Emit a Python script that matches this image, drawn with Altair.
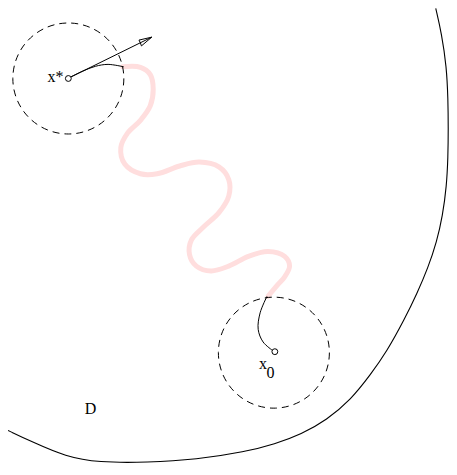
import altair as alt
import pandas as pd

# Diagram coordinates (image pixel units, y grows downward)
boundary_x = [444, 450, 455, 456.5, 456.8, 456.5, 455, 451, 445, 436, 425, 412, 394, 378, 357, 333, 307, 280, 250, 200, 150, 100, 67, 33, 8]
boundary_y = [7, 33, 67, 100, 130, 160, 190, 220, 247, 274, 300, 327, 360, 383, 410, 430, 445, 455, 463, 471, 474, 474, 468, 453, 441]

path_x = [125, 143, 153, 156, 153, 143, 130, 123, 127, 143, 160, 183, 203, 223, 233, 233, 223, 207, 195, 193, 200, 215, 233, 253, 273, 290, 295, 290, 283, 273]
path_y = [67, 67.5, 75, 90, 107, 122, 135, 150, 167, 177, 177, 169, 165, 170, 183, 200, 217, 232, 245, 260, 272, 277, 272, 262, 257, 262, 272, 283, 291, 303]

start_curve_x = [69, 84, 97, 110, 126]
start_curve_y = [79, 71.5, 66.5, 64.5, 67]

end_curve_x = [272, 265, 263, 268, 278]
end_curve_y = [303, 320, 337, 350, 359]

arrow_x = [69, 154.5]
arrow_y = [79, 36.5]
head_x = [154.5, 141.5, 143, 144, 154.5]
head_y = [36.5, 39.5, 42.5, 45.5, 36.5]

circle_x = [69.5, 279]
circle_y = [79, 361]

center_x = [69.5, 280]
center_y = [79, 360]

label_text = ["x*", "x", "0", "D"]
label_x = [64.5, 268, 275.5, 92]
label_y = [83, 378, 387, 424]
label_align = ["right", "center", "center", "center"]

W, H = 441, 455
xs = alt.Scale(domain=[8, 457.5])
ys = alt.Scale(domain=[6.5, 474.5], reverse=True)


def seq_df(xv, yv):
    return pd.DataFrame({"x": xv, "y": yv, "i": list(range(len(xv)))})


def line_layer(df, interp, **kw):
    return alt.Chart(df).mark_line(interpolate=interp, **kw).encode(
        x=alt.X("x:Q", scale=xs, axis=None),
        y=alt.Y("y:Q", scale=ys, axis=None),
        order="i:Q",
    )


boundary = line_layer(seq_df(boundary_x, boundary_y), "basis", color="black", strokeWidth=1.1)
pink = line_layer(seq_df(path_x, path_y), "catmull-rom", color="#ffdede", strokeWidth=5, strokeCap="round")
start_curve = line_layer(seq_df(start_curve_x, start_curve_y), "catmull-rom", color="black", strokeWidth=1)
end_curve = line_layer(seq_df(end_curve_x, end_curve_y), "catmull-rom", color="black", strokeWidth=1)
arrow = line_layer(seq_df(arrow_x, arrow_y), "linear", color="black", strokeWidth=1)
head = line_layer(seq_df(head_x, head_y), "linear", color="black", strokeWidth=1)

circles = alt.Chart(pd.DataFrame({"x": circle_x, "y": circle_y})).mark_point(
    shape="circle", filled=False, size=111 * 111, color="black", strokeWidth=1,
    strokeDash=[7, 5], opacity=1,
).encode(x=alt.X("x:Q", scale=xs, axis=None), y=alt.Y("y:Q", scale=ys, axis=None))

centers = alt.Chart(pd.DataFrame({"x": center_x, "y": center_y})).mark_point(
    shape="circle", filled=True, size=34, fill="white", stroke="black", strokeWidth=1, opacity=1,
).encode(x=alt.X("x:Q", scale=xs, axis=None), y=alt.Y("y:Q", scale=ys, axis=None))

labels_df = pd.DataFrame({"t": label_text, "x": label_x, "y": label_y, "a": label_align})
labels_r = alt.Chart(labels_df[labels_df.a == "right"]).mark_text(
    font="Liberation Serif", fontSize=16, align="right", baseline="alphabetic", color="black"
).encode(x=alt.X("x:Q", scale=xs, axis=None), y=alt.Y("y:Q", scale=ys, axis=None), text="t:N")
labels_c = alt.Chart(labels_df[labels_df.a == "center"]).mark_text(
    font="Liberation Serif", fontSize=16, align="center", baseline="alphabetic", color="black"
).encode(x=alt.X("x:Q", scale=xs, axis=None), y=alt.Y("y:Q", scale=ys, axis=None), text="t:N")

chart = alt.layer(
    boundary, pink, start_curve, end_curve, arrow, head, circles, centers, labels_r, labels_c
).properties(
    width=W, height=H, padding=0, autosize=alt.AutoSizeParams(type="none")
).configure(background="white").configure_view(stroke=None)

chart.save("out.html", embed_options={"renderer": "svg", "actions": False})
